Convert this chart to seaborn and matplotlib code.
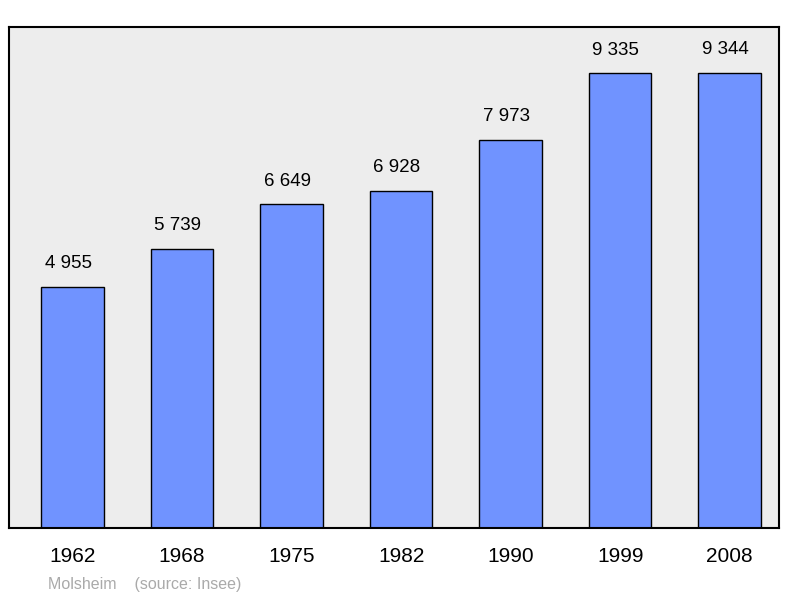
import matplotlib
matplotlib.use("Agg")
import matplotlib.pyplot as plt
import seaborn as sns
import pandas as pd

years = ["1962", "1968", "1975", "1982", "1990", "1999", "2008"]
population = [4955, 5739, 6649, 6928, 7973, 9335, 9344]
labels = ["4 955", "5 739", "6 649", "6 928", "7 973", "9 335", "9 344"]

sns.set_style("white")
plt.rcParams['font.family'] = ['Liberation Sans', 'DejaVu Sans']

df = pd.DataFrame({"year": years, "pop": population})
fig = plt.figure(figsize=(8, 5.98), dpi=100)
ax = fig.add_axes([9/800, 70/598, 770/800, 501/598])
ax.set_facecolor("#ededed")
sns.barplot(data=df, x="year", y="pop", color="#7093ff", saturation=1,
            width=0.57, edgecolor="black", linewidth=1, ax=ax)
for i, (v, t) in enumerate(zip(population, labels)):
    ax.text(i - 0.04, v + 300, t, ha="center", va="bottom", fontsize=13.5, color="black")
ax.set_xlim(-0.58, 6.45)
ax.set_ylim(0, 10290)
ax.set_yticks([])
ax.set_xlabel("")
ax.set_ylabel("")
ax.tick_params(axis="x", length=0, labelsize=15, pad=14, labelcolor="black")
for s in ax.spines.values():
    s.set_linewidth(1.5)
    s.set_color("black")
fig.text(48/800, 1 - 584/598, "Molsheim    (source: Insee)", color="#aaaaaa",
         fontsize=11.5, va="center")
fig.savefig("out.png", dpi=100)
